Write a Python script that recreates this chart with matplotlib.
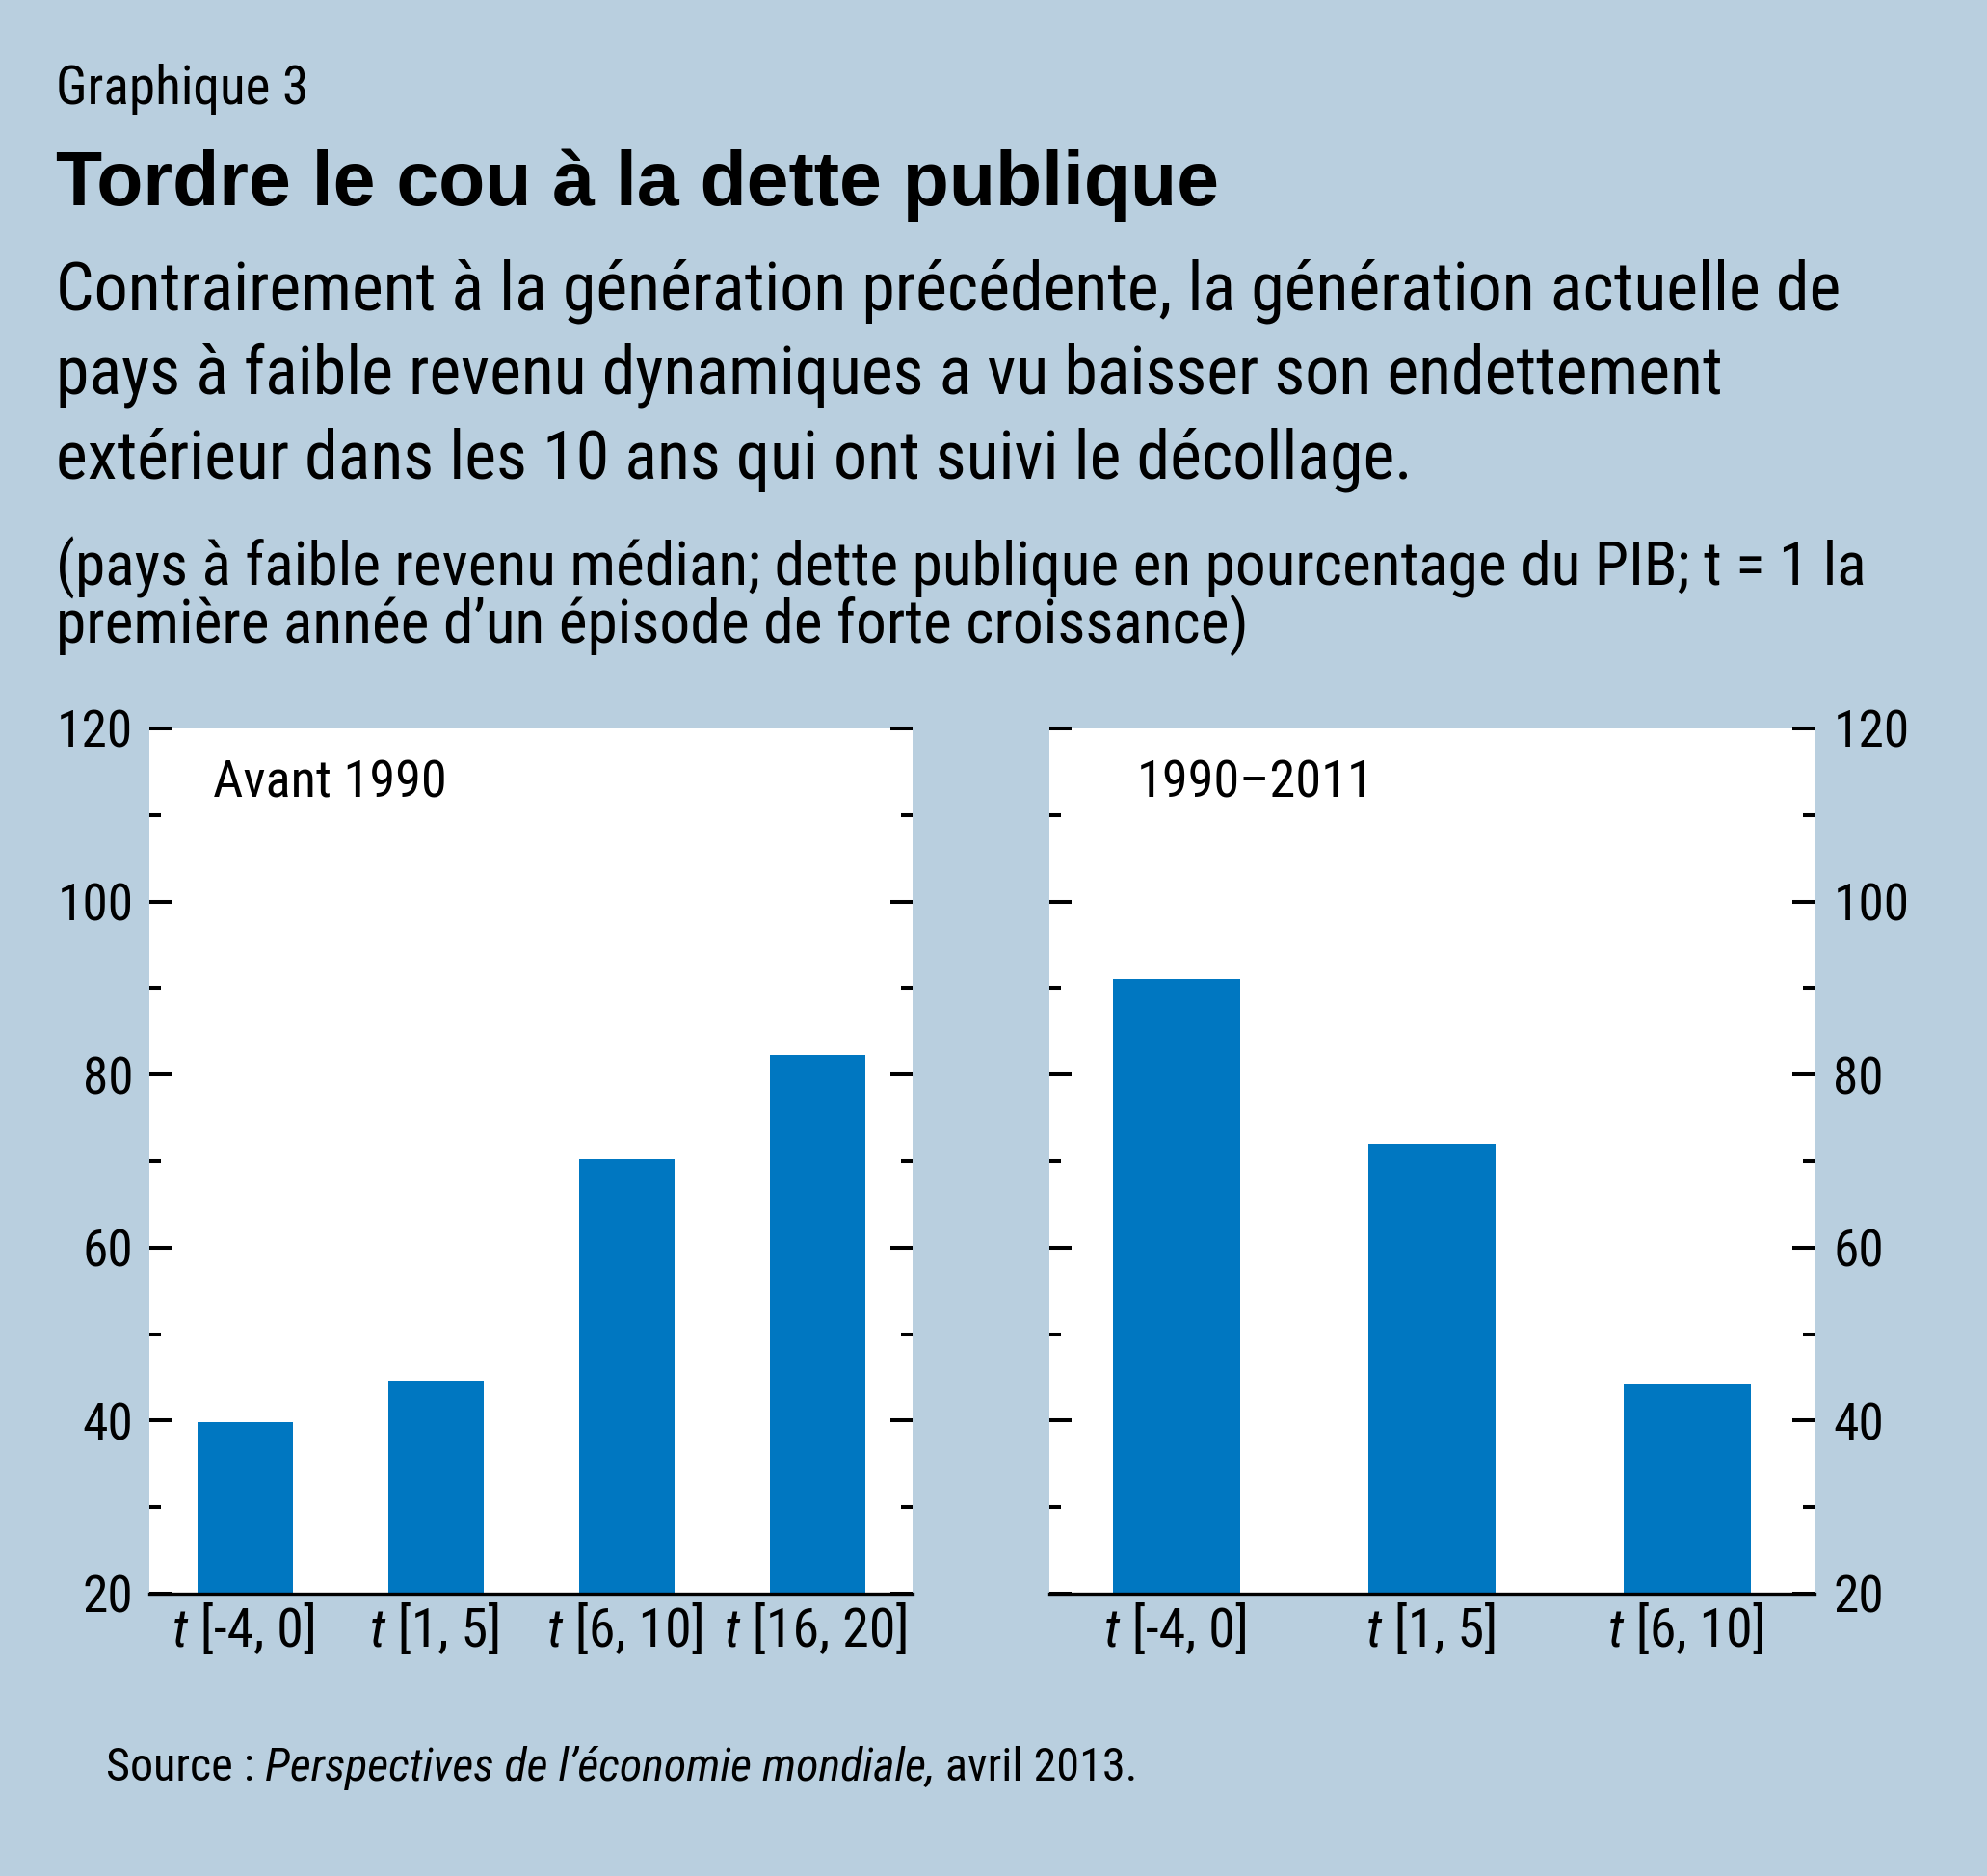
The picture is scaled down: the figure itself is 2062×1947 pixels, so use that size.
import os

import matplotlib
matplotlib.use("Agg")
import matplotlib.pyplot as plt
from matplotlib import font_manager as fm
from matplotlib.ticker import MultipleLocator

# ── Data ──
labels_left = ["[-4, 0]", "[1, 5]", "[6, 10]", "[16, 20]"]
values_left = [39.8, 44.6, 70.2, 82.2]
labels_right = ["[-4, 0]", "[1, 5]", "[6, 10]"]
values_right = [91.0, 72.0, 44.3]

C_BG = "#B9CFDF"
C_BAR = "#0077C1"

W, H = 2062, 1947


def find_font(candidates):
    files = {os.path.basename(f.fname): f.fname for f in fm.fontManager.ttflist}
    for c in candidates:
        if c in files:
            return files[c]
    return None


REG = find_font(["LiberationSansNarrow-Regular.ttf", "RobotoCondensed-Regular.ttf",
                 "NotoSans-Condensed.ttf", "DejaVuSansCondensed.ttf",
                 "LiberationSans-Regular.ttf"])
ITA = find_font(["LiberationSansNarrow-Italic.ttf", "RobotoCondensed-Italic.ttf",
                 "NotoSans-CondensedItalic.ttf", "DejaVuSansCondensed-Oblique.ttf",
                 "LiberationSans-Italic.ttf"])
BOLD = find_font(["LiberationSans-Bold.ttf", "Roboto-Bold.ttf"])


def fp(path, size, fallback_style="normal", weight="normal"):
    if path:
        return fm.FontProperties(fname=path, size=size)
    return fm.FontProperties(family="DejaVu Sans", style=fallback_style,
                             weight=weight, size=size)


fig = plt.figure(figsize=(W / 100, H / 100), dpi=100)
fig.patch.set_facecolor(C_BG)
renderer = fig.canvas.get_renderer()


def fx(px):
    return px / W


def fy(py):
    return 1 - py / H


def text_width(s, path, size, style="normal", weight="normal"):
    t = fig.text(0, 0, s, fontproperties=fp(path, size, style, weight))
    w = t.get_window_extent(renderer=renderer).width
    t.remove()
    return w


def fit(s, target, path, style="normal", weight="normal", guess=40.0):
    """Font size so that text s is target pixels wide."""
    return guess * target / text_width(s, path, guess, style, weight)


# ── Header text ──
s_g = fit("Graphique 3", 262, REG)
fig.text(fx(58), fy(108), "Graphique 3", fontproperties=fp(REG, s_g), va="baseline")

title = "Tordre le cou à la dette publique"
s_t = fit(title, 1204, BOLD, weight="bold")
fig.text(fx(58), fy(213), title, fontproperties=fp(BOLD, s_t, weight="bold"), va="baseline")

sub = ["Contrairement à la génération précédente, la génération actuelle de",
       "pays à faible revenu dynamiques a vu baisser son endettement",
       "extérieur dans les 10 ans qui ont suivi le décollage."]
s_s = fit(sub[0], 1851, REG)
for i, line in enumerate(sub):
    fig.text(fx(58), fy(321 + i * 87.5), line, fontproperties=fp(REG, s_s), va="baseline")

note = ["(pays à faible revenu médian; dette publique en pourcentage du PIB; t = 1 la",
        "première année d’un épisode de forte croissance)"]
s_n = fit(note[0], 1875, REG)
for i, line in enumerate(note):
    fig.text(fx(58), fy(608 + i * 60), line, fontproperties=fp(REG, s_n), va="baseline")

s_tick = fit("120", 79, REG)
s_xl = fit("t [16, 20]", 192, REG)
s_pl = fit("Avant 1990", 243, REG)


def style_axes(ax, side):
    ax.set_facecolor("white")
    for s in ["left", "right", "top"]:
        ax.spines[s].set_visible(False)
    ax.spines["bottom"].set_linewidth(2.4)
    ax.spines["bottom"].set_color("black")
    ax.set_ylim(20, 120)
    ax.yaxis.set_major_locator(MultipleLocator(20))
    ax.yaxis.set_minor_locator(MultipleLocator(10))
    ax.tick_params(axis="y", which="both", direction="in", left=True, right=True,
                   labelleft=(side == "left"), labelright=(side == "right"),
                   pad=12 if side == "left" else 14, width=2.9)
    ax.tick_params(axis="y", which="major", length=16.5)
    ax.tick_params(axis="y", which="minor", length=8.5)
    ax.tick_params(axis="x", length=0)
    for lbl in ax.get_yticklabels():
        lbl.set_fontproperties(fp(REG, s_tick))


def draw_xlabels(ax, labels):
    # italic "t" followed by the interval, centred under each bar
    for i, lab in enumerate(labels):
        xc = ax.transData.transform((i, 20))[0]
        t1 = fig.text(0, 0, "t", fontproperties=fp(ITA, s_xl, "italic"), va="baseline")
        t2 = fig.text(0, 0, " " + lab, fontproperties=fp(REG, s_xl), va="baseline")
        w1 = t1.get_window_extent(renderer=renderer).width
        w2 = t2.get_window_extent(renderer=renderer).width
        x0 = xc - (w1 + w2) / 2
        t1.set_position((x0 / W, fy(1709)))
        t2.set_position(((x0 + w1) / W, fy(1709)))


# ── Left panel ──
ax1 = fig.add_axes([fx(155), fy(1654), fx(947) - fx(155), (1654 - 756) / H])
x1 = range(len(values_left))
ax1.bar(x1, values_left, width=0.5, bottom=0, color=C_BAR, zorder=2)
ax1.set_xlim(-0.5, len(values_left) - 0.5)
ax1.set_xticks(list(x1))
ax1.set_xticklabels([])
style_axes(ax1, "left")
draw_xlabels(ax1, labels_left)
ax1.text(0.083, 0.92, "Avant 1990", transform=ax1.transAxes,
         fontproperties=fp(REG, s_pl), va="baseline")

# ── Right panel ──
ax2 = fig.add_axes([fx(1089), fy(1654), fx(1883) - fx(1089), (1654 - 756) / H])
x2 = range(len(values_right))
ax2.bar(x2, values_right, width=0.5, bottom=0, color=C_BAR, zorder=2)
ax2.set_xlim(-0.5, len(values_right) - 0.5)
ax2.set_xticks(list(x2))
ax2.set_xticklabels([])
style_axes(ax2, "right")
draw_xlabels(ax2, labels_right)
ax2.text(0.114, 0.92, "1990–2011", transform=ax2.transAxes,
         fontproperties=fp(REG, s_pl), va="baseline")

# ── Source line (mixed roman / italic) ──
parts = [("Source : ", REG, "normal"),
         ("Perspectives de l’économie mondiale,", ITA, "italic"),
         (" avril 2013.", REG, "normal")]
total = sum(text_width(txt, path, 40.0, style) for txt, path, style in parts)
s_src = 40.0 * 1070 / total
xpos = 110
for txt, path, style in parts:
    t = fig.text(fx(xpos), fy(1848), txt, fontproperties=fp(path, s_src, style),
                 va="baseline")
    xpos += t.get_window_extent(renderer=renderer).width

fig.savefig("out.png", dpi=100, facecolor=C_BG)
